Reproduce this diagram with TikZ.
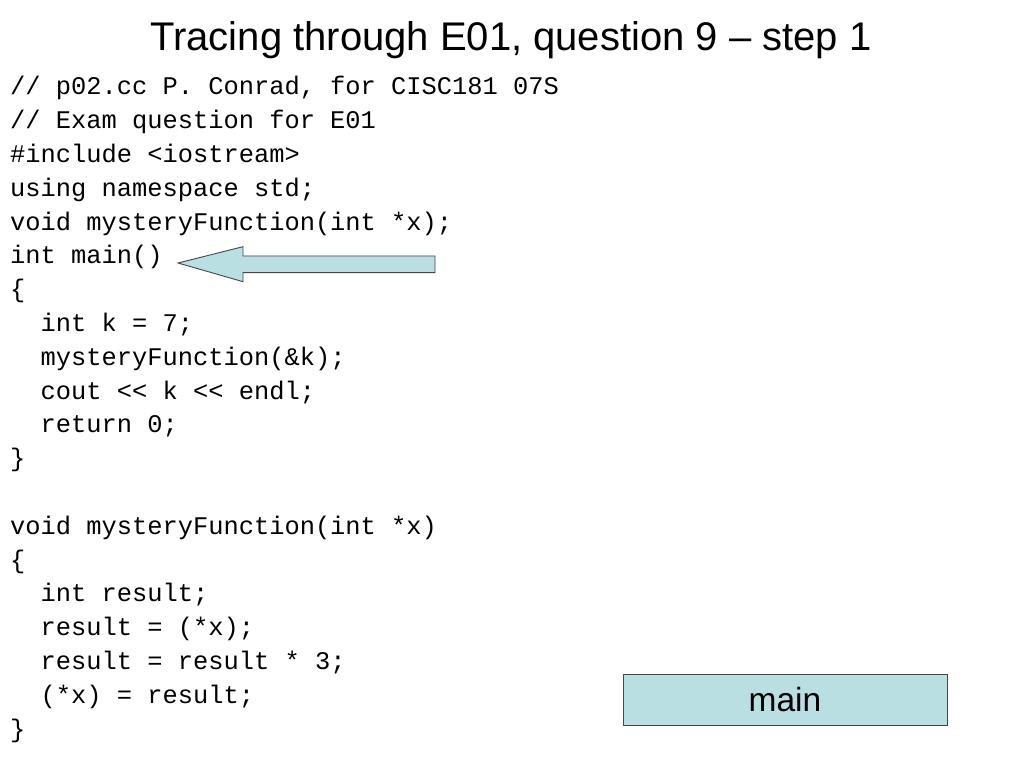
\documentclass[tikz,border=0pt]{standalone}
\usepackage{fontspec}
\setmainfont{Liberation Sans}
\setmonofont{Liberation Mono}
\definecolor{boxblue}{RGB}{185,223,227}
\definecolor{edgegray}{RGB}{70,70,70}
\tikzset{
    codeline/.style={anchor=base west, inner sep=0pt,
        font=\fontsize{25.4}{30}\selectfont\ttfamily},
    framebox/.style={draw=edgegray, fill=boxblue, line width=0.9pt,
        font=\fontsize{33.5}{38}\selectfont}
}

\begin{document}
\begin{tikzpicture}[x=1pt,y=1pt]
	    \useasboundingbox[fill=white] (0,0) rectangle (1024,768);
	    \node[anchor=base, inner sep=0pt, font=\fontsize{40}{44}\selectfont]
	        (title) at (511,717) {Tracing through E01, question 9 -- step 1};
	    % code, one line per node
	    \node[codeline] (l1) at (10,673) {// p02.cc P. Conrad, for CISC181 07S};
	    \node[codeline] (l2) at (10,639.2) {// Exam question for E01};
	    \node[codeline] (l3) at (10,605.4) {\#include <iostream>};
	    \node[codeline] (l4) at (10,571.6) {using namespace std;};
	    \node[codeline] (l5) at (10,537.8) {void mysteryFunction(int *x);};
	    \node[codeline] (l6) at (10,504) {int main()};
	    \node[codeline] (l7) at (10,470.2) {\{};
	    \node[codeline] (l8) at (40.5,436.4) {int k = 7;};
	    \node[codeline] (l9) at (40.5,402.6) {mysteryFunction(\&k);};
	    \node[codeline] (l10) at (40.5,368.8) {cout << k << endl;};
	    \node[codeline] (l11) at (40.5,335) {return 0;};
	    \node[codeline] (l12) at (10,301.2) {\}};
	    \node[codeline] (l14) at (10,233.6) {void mysteryFunction(int *x)};
	    \node[codeline] (l15) at (10,199.8) {\{};
	    \node[codeline] (l16) at (40.5,166) {int result;};
	    \node[codeline] (l17) at (40.5,132.2) {result = (*x);};
	    \node[codeline] (l18) at (40.5,98.4) {result = result * 3;};
	    \node[codeline] (l19) at (40.5,64.6) {(*x) = result;};
	    \node[codeline] (l20) at (10,30.8) {\}};
	    % pointer to the current line
	    \filldraw[draw=edgegray, fill=boxblue, line width=0.9pt]
	        (435,512) -- (435,495.3) -- (243,495.3) -- (243,486.3)
	        -- (178,505) -- (243,521.3) -- (243,512) -- cycle;
	    % stack frame
	    \node[framebox, minimum width=324pt, minimum height=51pt]
	        (frame) at (785,68.5) {main};
\end{tikzpicture}
\end{document}
